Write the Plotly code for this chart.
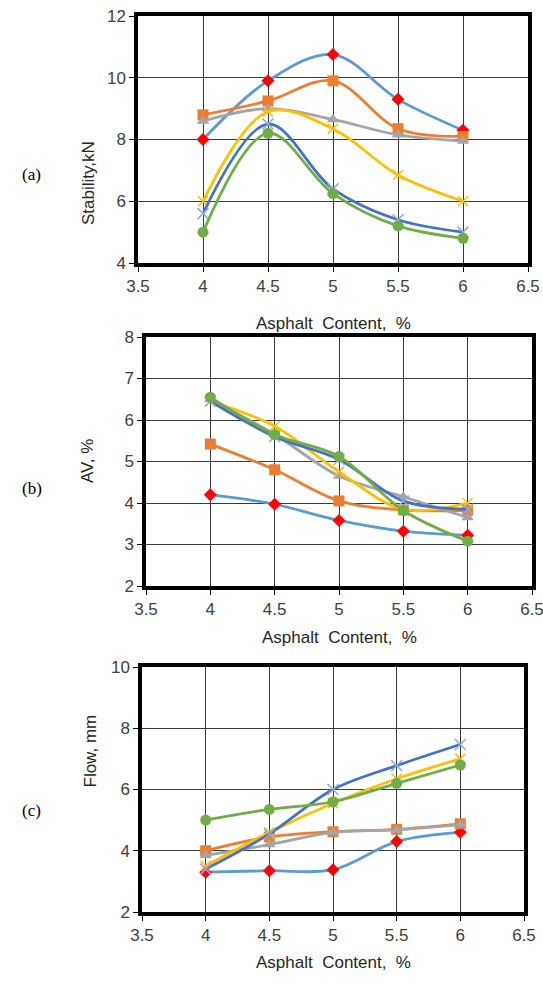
import plotly.graph_objects as go

W, H = 543, 985

asphalt = [4, 4.5, 5, 5.5, 6]

# Stability, kN (panel a)
stab_s1 = [8.0, 9.9, 10.75, 9.3, 8.3]
stab_s2 = [8.8, 9.25, 9.9, 8.35, 8.1]
stab_s3 = [8.6, 9.0, 8.65, 8.15, 7.95]
stab_s4 = [6.0, 8.9, 8.35, 6.85, 6.0]
stab_s5 = [5.6, 8.5, 6.4, 5.4, 5.0]
stab_s6 = [5.0, 8.2, 6.25, 5.2, 4.8]

# AV, % (panel b)
av_s1 = [4.2, 3.97, 3.58, 3.32, 3.22]
av_s2 = [5.42, 4.8, 4.05, 3.83, 3.82]
av_s3 = [6.5, 5.65, 4.65, 4.15, 3.65]
av_s4 = [6.45, 5.85, 4.75, 3.85, 4.0]
av_s5 = [6.45, 5.6, 5.05, 4.05, 3.85]
av_s6 = [6.55, 5.65, 5.12, 3.82, 3.08]

# Flow, mm (panel c)
flow_s1 = [3.3, 3.35, 3.38, 4.3, 4.6]
flow_s2 = [4.0, 4.45, 4.62, 4.7, 4.88]
flow_s3 = [3.85, 4.2, 4.6, 4.68, 4.85]
flow_s4 = [3.5, 4.6, 5.55, 6.35, 7.0]
flow_s5 = [3.4, 4.55, 6.0, 6.78, 7.47]
flow_s6 = [5.0, 5.35, 5.6, 6.2, 6.8]

x_ticks = [3.5, 4, 4.5, 5, 5.5, 6, 6.5]
x_title = "Asphalt&nbsp; Content,&nbsp; %"
y_titles = ["Stability,kN", "AV, %", "Flow, mm"]
panel_labels = ["(a)", "(b)", "(c)"]

styles = [
    dict(line="#5B9BD5", marker=dict(symbol="diamond", size=10, color="#FF0000")),
    dict(line="#ED7D31", marker=dict(symbol="square", size=11, color="#ED7D31")),
    dict(line="#A5A5A5", marker=dict(symbol="triangle-up", size=11, color="#A5A5A5")),
    dict(line="#FFC000", marker=dict(symbol="x-thin-open", size=10, color="#FFC000",
                                     line=dict(width=1.5, color="#FFC000"))),
    dict(line="#4472C4", marker=dict(symbol="x-thin-open", size=11, color="#8FAADC",
                                     line=dict(width=1.5, color="#8FAADC"))),
    dict(line="#70AD47", marker=dict(symbol="circle", size=11, color="#70AD47")),
]

panels = [
    dict(data=[stab_s1, stab_s2, stab_s3, stab_s4, stab_s5, stab_s6],
         yrange=[4, 12], dtick=2, box=(138, 528, 16, 263), title_y=312, ylab_x=77, lab_y=163),
    dict(data=[av_s1, av_s2, av_s3, av_s4, av_s5, av_s6],
         yrange=[2, 8], dtick=1, box=(146, 532, 337, 586), title_y=637, ylab_x=76, lab_y=488),
    dict(data=[flow_s1, flow_s2, flow_s3, flow_s4, flow_s5, flow_s6],
         yrange=[2, 10], dtick=2, box=(142, 524, 667, 912), title_y=974, ylab_x=78, lab_y=822),
]

fig = go.Figure()
annotations = []
font_tick = dict(family="Liberation Sans, Arial", size=17, color="#404040")

for i, p in enumerate(panels):
    k = "" if i == 0 else str(i + 1)
    xa, ya = "x" + k, "y" + k
    for series, st in zip(p["data"], styles):
        fig.add_trace(go.Scatter(
            x=asphalt, y=series, xaxis=xa, yaxis=ya, mode="lines+markers",
            line=dict(color=st["line"], width=2.8, shape="spline", smoothing=1.0),
            marker=st["marker"], showlegend=False, cliponaxis=False))
    x0, x1, y0, y1 = p["box"]
    axis_common = dict(showline=True, linecolor="black", linewidth=3.5, mirror=True,
                       showgrid=True, gridcolor="#3a3a3a", gridwidth=1.3,
                       ticks="outside", ticklen=5, tickcolor="black", tickwidth=1.2,
                       tickfont=font_tick, zeroline=False, automargin=False,
                       ticklabeloverflow="allow")
    fig.update_layout(**{
        "xaxis" + k: dict(domain=[x0 / W, x1 / W], range=[3.5, 6.5], tickvals=x_ticks,
                          anchor=ya, **axis_common),
        "yaxis" + k: dict(domain=[1 - y1 / H, 1 - y0 / H], range=p["yrange"], dtick=p["dtick"],
                          anchor=xa, **axis_common),
    })
    annotations.append(dict(text=x_title, x=(x0 + x1) / 2 / W, y=1 - p["title_y"] / H,
                            xref="paper", yref="paper", showarrow=False,
                            font=dict(family="Liberation Sans, Arial", size=17, color="#262626")))
    annotations.append(dict(text=y_titles[i], x=p["ylab_x"] / W, y=1 - (y0 + y1) / 2 / H,
                            xref="paper", yref="paper", showarrow=False, textangle=-90,
                            font=dict(family="Liberation Sans, Arial", size=17, color="#262626")))
    annotations.append(dict(text=panel_labels[i], x=20 / W, y=1 - p["lab_y"] / H,
                            xref="paper", yref="paper", showarrow=False,
                            font=dict(family="Liberation Serif, Times New Roman", size=17, color="black")))

fig.update_layout(width=W, height=H, margin=dict(l=0, r=0, t=0, b=0),
                  paper_bgcolor="white", plot_bgcolor="white", annotations=annotations)

fig.write_html("out.html", config={"displayModeBar": False},
               post_script="document.body.style.margin='0';document.body.style.overflow='hidden';"
                           "document.documentElement.style.overflow='hidden';")
